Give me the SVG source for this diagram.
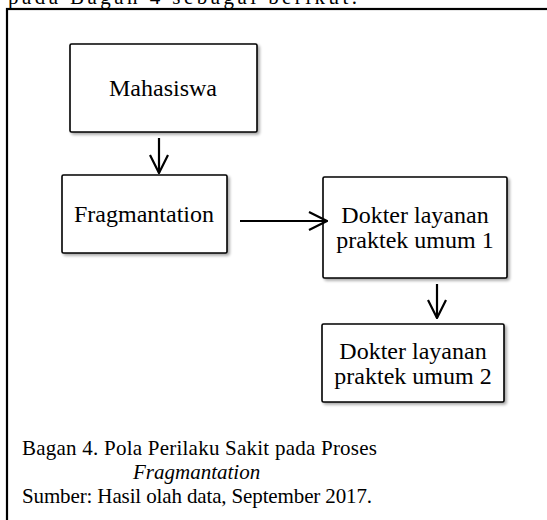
<svg xmlns="http://www.w3.org/2000/svg" width="547" height="520" viewBox="0 0 547 520">
<defs>
<filter id="sh" x="-10%" y="-10%" width="130%" height="130%">
<feGaussianBlur in="SourceAlpha" stdDeviation="1.5"/>
<feOffset dx="1.5" dy="2" result="b"/>
<feComponentTransfer><feFuncA type="linear" slope="0.35"/></feComponentTransfer>
<feMerge><feMergeNode/><feMergeNode in="SourceGraphic"/></feMerge>
</filter>
<marker id="v" viewBox="0 0 20 20" refX="19" refY="10" markerWidth="20" markerHeight="20" markerUnits="userSpaceOnUse" orient="auto">
<polyline points="1,1 19,10 1,19" fill="none" stroke="#000" stroke-width="2.2"/>
</marker>
</defs>
<style>
.box{fill:#fff;stroke:#000;stroke-width:1.6}
text{font-family:'Liberation Serif','Times New Roman',serif;fill:#000}
.bt{font-size:24px;text-anchor:middle}
.cap{font-size:21px}
.con{stroke:#000;stroke-width:2.2;fill:none;marker-end:url(#v)}
</style>
<rect width="547" height="520" fill="#fff"/>
<g font-family="Liberation Serif, Times New Roman, serif">
<text class="cap" x="8" y="4" textLength="349" font-family="Liberation Serif, serif">pada Bagan 4 sebagai berikut.</text>
<rect x="7" y="9" width="560" height="530" fill="none" stroke="#000" stroke-width="2.2"/>
<g id="n-mahasiswa">
<rect class="box" x="70" y="44" width="187" height="88" rx="1.5" filter="url(#sh)"/>
<text class="bt" x="163" y="96" font-family="Liberation Serif, serif">Mahasiswa</text>
</g>
<g id="n-fragmantation">
<rect class="box" x="62" y="175" width="165" height="78" rx="1.5" filter="url(#sh)"/>
<text class="bt" x="144" y="222" font-family="Liberation Serif, serif">Fragmantation</text>
</g>
<g id="n-dokter1">
<rect class="box" x="323" y="177" width="184" height="101" rx="1.5" filter="url(#sh)"/>
<text class="bt" x="415" y="223" font-family="Liberation Serif, serif">Dokter layanan</text>
<text class="bt" x="415" y="248" font-family="Liberation Serif, serif">praktek umum 1</text>
</g>
<g id="n-dokter2">
<rect class="box" x="322" y="324" width="182" height="78" rx="1.5" filter="url(#sh)"/>
<text class="bt" x="413" y="359" font-family="Liberation Serif, serif">Dokter layanan</text>
<text class="bt" x="413" y="384" font-family="Liberation Serif, serif">praktek umum 2</text>
</g>
<g id="connectors">
<line class="con" x1="159" y1="138" x2="159" y2="173"/>
<line class="con" x1="240" y1="221" x2="327" y2="221"/>
<line class="con" x1="437" y1="284" x2="437" y2="318"/>
</g>
<g id="caption">
<text class="cap" x="22" y="455" textLength="355" font-family="Liberation Serif, serif">Bagan 4. Pola Perilaku Sakit pada Proses</text>
<text class="cap" x="133" y="479" font-style="italic" font-family="Liberation Serif, serif">Fragmantation</text>
<text class="cap" x="22" y="503" textLength="350" font-family="Liberation Serif, serif">Sumber: Hasil olah data, September 2017.</text>
</g>
</g>
</svg>
